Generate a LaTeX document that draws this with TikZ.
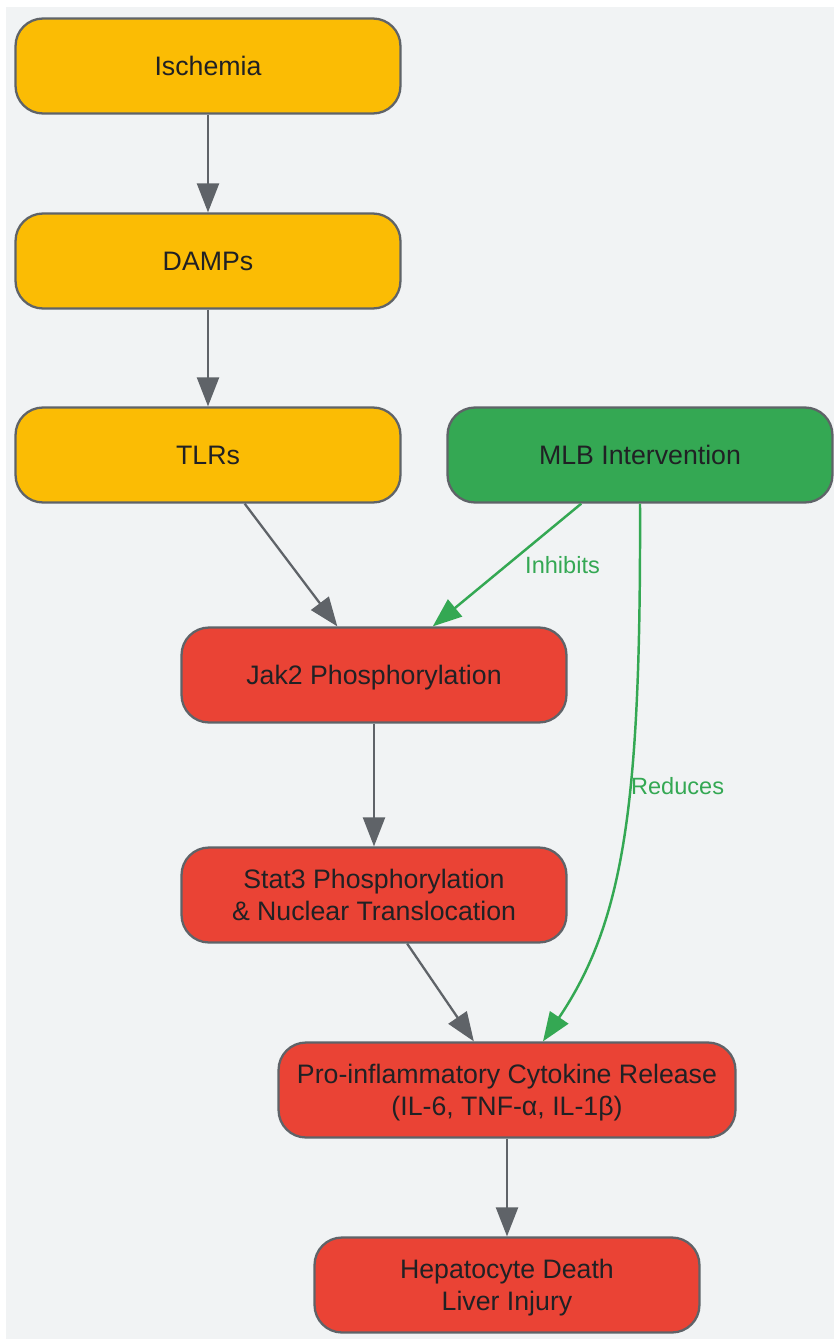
\documentclass[tikz,border=0pt]{standalone}
\usepackage{fontspec}
\setmainfont{Liberation Sans}
\usetikzlibrary{arrows.meta}
\definecolor{bggray}{HTML}{F1F3F4}
\definecolor{linegray}{HTML}{5F6368}
\definecolor{txtdark}{HTML}{202124}
\definecolor{gyellow}{HTML}{FBBC04}
\definecolor{gred}{HTML}{EA4335}
\definecolor{ggreen}{HTML}{34A853}
\begin{document}
\begin{tikzpicture}[x=0.02cm, y=-0.02cm,
  box/.style={draw=linegray, line width=1.3pt, rounded corners=0.55cm,
    minimum width=7.7cm, minimum height=1.9cm, align=center, text=txtdark,
    text depth=0pt, font=\fontsize{15.2}{18}\selectfont},
  arr/.style={draw=linegray, line width=1.3pt,
    -{Triangle[length=0.58cm, width=0.44cm]}},
  garr/.style={draw=ggreen, line width=1.4pt,
    -{Triangle[length=0.58cm, width=0.44cm]}},
  lbl/.style={text=ggreen, inner sep=0pt, font=\fontsize{13.4}{16}\selectfont}]
\useasboundingbox (0, 0) rectangle (834, 1339);
\fill[bggray] (6, 7) rectangle (834, 1339);
% upstream
\node[box, fill=gyellow] (isch) at (208, 66) {Ischemia};
\node[box, fill=gyellow] (damps) at (208, 261) {DAMPs};
\node[box, fill=gyellow] (tlrs) at (208, 455) {TLRs};
\node[box, fill=ggreen] (mlb) at (640, 455) {MLB Intervention};
% signalling
\node[box, fill=gred] (jak) at (374, 675) {Jak2 Phosphorylation};
\node[box, fill=gred] (stat) at (374, 895) {Stat3 Phosphorylation\\\& Nuclear Translocation};
\node[box, fill=gred, minimum width=9.14cm] (pro) at (507, 1090)
  {Pro-inflammatory Cytokine Release\\(IL-6, TNF-α, IL-1β)};
\node[box, fill=gred] (hep) at (507, 1285) {Hepatocyte Death\\Liver Injury};
\foreach \a/\b in {isch/damps, damps/tlrs, tlrs/jak, jak/stat, stat/pro, pro/hep}
  \draw[arr] (\a) -- (\b);
\draw[garr] (mlb) -- (jak) node[lbl, midway, right, xshift=0.34cm] {Inhibits};
\draw[garr] (mlb.south) .. controls (641, 800) and (625, 920) .. ([xshift=0.72cm]pro.north)
  node[lbl, pos=0.4, right] {Reduces};
\end{tikzpicture}
\end{document}
